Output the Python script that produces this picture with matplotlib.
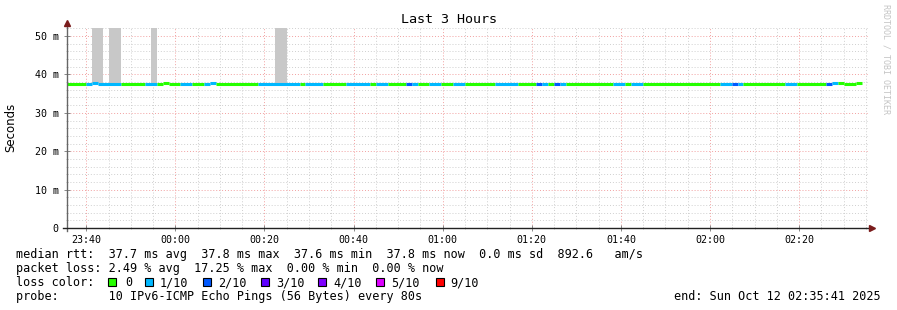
import matplotlib.pyplot as plt
from matplotlib.patches import Rectangle
from matplotlib.lines import Line2D
from matplotlib.ticker import MultipleLocator, FixedLocator

# time in minutes relative to 00:00 (negative = before midnight)
t_start = -24.32   # 23:35:41
t_end = 155.68     # 02:35:41

# median rtt segments: start time, end time, loss level (index into loss_colors), median ms
seg_start = [-24.32, -20.06, -18.70, -17.36, -12.20, -6.81, -4.12, -2.77, -1.43, 1.04,
             3.74, 6.43, 7.78, 9.12, 18.55, 27.97, 29.10, 33.14, 38.30, 43.69,
             45.03, 47.73, 51.77, 53.11, 54.46, 56.93, 59.62, 62.31, 65.01, 71.74,
             76.90, 80.94, 82.29, 83.63, 84.98, 86.33, 87.67, 98.22, 100.91, 102.26,
             104.95, 122.23, 124.93, 126.27, 127.40, 136.82, 139.52, 146.03, 147.37, 148.72,
             150.07, 152.76]
seg_end = seg_start[1:] + [154.10]
seg_loss = [0, 1, 1, 1, 0, 1, 0, 0, 0, 1,
            0, 1, 1, 0, 1, 0, 1, 0, 1, 0,
            1, 0, 2, 1, 0, 1, 0, 1, 0, 1,
            0, 2, 1, 0, 2, 1, 0, 1, 0, 1,
            0, 1, 2, 1, 0, 1, 0, 2, 1, 0,
            0, 0]
seg_median = [37.6, 37.6, 37.9, 37.6, 37.6, 37.6, 37.6, 37.9, 37.6, 37.6,
              37.6, 37.6, 37.9, 37.6, 37.6, 37.6, 37.6, 37.6, 37.6, 37.6,
              37.6, 37.6, 37.6, 37.6, 37.6, 37.6, 37.6, 37.6, 37.6, 37.6,
              37.6, 37.6, 37.6, 37.6, 37.6, 37.6, 37.6, 37.6, 37.6, 37.6,
              37.6, 37.6, 37.6, 37.6, 37.6, 37.6, 37.6, 37.6, 37.9, 37.9,
              37.6, 37.9]

# smoke (gray) bars going off the top of the chart
smoke_start = [-18.70, -14.90, -5.47, 22.40]
smoke_end = [-16.24, -12.20, -4.12, 25.06]
smoke_low = [37.8, 37.8, 37.8, 37.8]
smoke_high = [70.0, 70.0, 70.0, 70.0]

loss_labels = ["0", "1/10", "2/10", "3/10", "4/10", "5/10", "9/10"]
loss_colors = ["#26ff00", "#00b8ff", "#0059ff", "#5e00ff", "#7e00ff", "#dd00ff", "#ff0000"]

x_ticks = [-20, 0, 20, 40, 60, 80, 100, 120, 140]
x_tick_labels = ["23:40", "00:00", "00:20", "00:40", "01:00", "01:20", "01:40", "02:00", "02:20"]
y_ticks = [0, 10, 20, 30, 40, 50]
y_tick_labels = ["0", "10 m", "20 m", "30 m", "40 m", "50 m"]

W, H = 897, 310
mono = "DejaVu Sans Mono"


def fx(px):
    return px / W


def fy(py):
    return 1 - py / H


fig = plt.figure(figsize=(W / 100, H / 100), dpi=100)
fig.patch.set_facecolor("white")
ax = fig.add_axes([fx(67), fy(228), fx(869) - fx(67), fy(28) - fy(228)])
ax.set_xlim(t_start, t_end)
ax.set_ylim(0, 52.1)

for s in ax.spines.values():
    s.set_visible(False)

# grid
ax.xaxis.set_major_locator(FixedLocator(x_ticks))
ax.xaxis.set_minor_locator(MultipleLocator(5))
ax.yaxis.set_major_locator(FixedLocator(y_ticks))
ax.yaxis.set_minor_locator(MultipleLocator(2))
ax.grid(which="minor", color="#cfcfcf", linestyle=(0, (1, 2)), linewidth=0.7)
ax.grid(which="major", color="#f2a0a0", linestyle=(0, (1, 2)), linewidth=0.7)
ax.set_axisbelow(True)

ax.set_xticklabels(x_tick_labels, fontfamily=mono, fontsize=7.2)
ax.set_yticklabels(y_tick_labels, fontfamily=mono, fontsize=7.2)
ax.tick_params(axis="both", which="major", direction="inout", length=4, color="#888888", width=0.7)
ax.tick_params(axis="both", which="minor", direction="inout", length=2, color="#aaaaaa", width=0.5)
ax.tick_params(axis="y", pad=4)
ax.tick_params(axis="x", pad=3)

# smoke
ax.bar(smoke_start, [h - l for h, l in zip(smoke_high, smoke_low)],
       width=[e - s for s, e in zip(smoke_start, smoke_end)], bottom=smoke_low,
       align="edge", color="#c8c8c8", linewidth=0, zorder=2)

# median line coloured by loss
ax.hlines(seg_median, seg_start, seg_end, colors=[loss_colors[i] for i in seg_loss],
          linewidth=2.2, capstyle="butt", zorder=3)

# axes lines + arrows
fig.add_artist(Line2D([fx(67), fx(67)], [fy(231), fy(24)], color="#666666", lw=1))
fig.add_artist(Line2D([fx(63), fx(871)], [fy(228), fy(228)], color="#222222", lw=1))
fig.add_artist(Line2D([fx(67)], [fy(23)], marker="^", markersize=4, color="#7a1c1c", lw=0))
fig.add_artist(Line2D([fx(872)], [fy(228)], marker=">", markersize=4, color="#7a1c1c", lw=0))

# titles
fig.text(0.5, fy(19.5), "Last 3 Hours", ha="center", va="center", fontfamily=mono, fontsize=9.6)
fig.text(fx(11), fy(127), "Seconds", rotation=90, ha="center", va="center",
         fontfamily="DejaVu Sans", fontsize=8.5)
fig.text(fx(886), fy(4), "RRDTOOL / TOBI OETIKER", rotation=-90, ha="center", va="top",
         fontfamily=mono, fontsize=6.0, color="#c4c4c4")

# legend
fs = 8.45
fig.text(fx(16), fy(254.5), "median rtt:  37.7 ms avg  37.8 ms max  37.6 ms min  37.8 ms now  0.0 ms sd  892.6   am/s",
         ha="left", va="center", fontfamily=mono, fontsize=fs)
fig.text(fx(16), fy(268.5), "packet loss: 2.49 % avg  17.25 % max  0.00 % min  0.00 % now",
         ha="left", va="center", fontfamily=mono, fontsize=fs)
fig.text(fx(16), fy(282.5), "loss color:", ha="left", va="center", fontfamily=mono, fontsize=fs)
sq_x = [108, 145, 203, 261, 318, 376, 436]
txt_x = [125, 160, 218, 276, 333, 391, 450]
for lab, col, sx, tx in zip(loss_labels, loss_colors, sq_x, txt_x):
    fig.add_artist(Rectangle((fx(sx), fy(286)), 8 / W, 8 / H, facecolor=col,
                             edgecolor="black", linewidth=0.8, transform=fig.transFigure))
    fig.text(fx(tx), fy(282.5), lab, ha="left", va="center", fontfamily=mono, fontsize=fs)
fig.text(fx(16), fy(296.5), "probe:       10 IPv6-ICMP Echo Pings (56 Bytes) every 80s",
         ha="left", va="center", fontfamily=mono, fontsize=fs)
fig.text(fx(881), fy(296.5), "end: Sun Oct 12 02:35:41 2025", ha="right", va="center",
         fontfamily=mono, fontsize=fs)

fig.savefig("out.png", dpi=100)
